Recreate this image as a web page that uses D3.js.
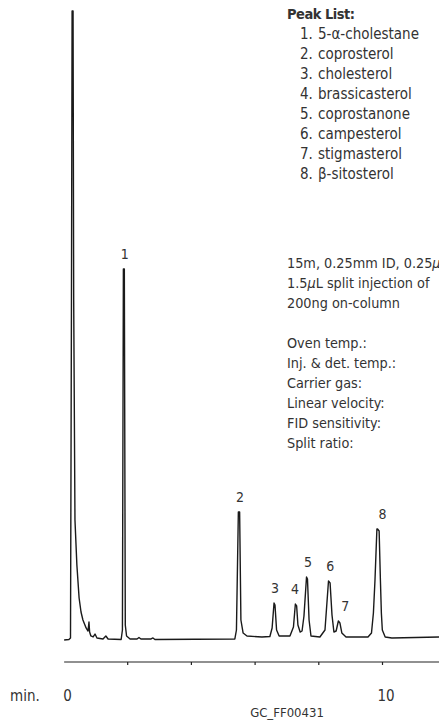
<!DOCTYPE html>
<html>
<head>
<meta charset="utf-8">
<script src="https://cdn.jsdelivr.net/npm/d3@7/dist/d3.min.js"></script>
<style>
  html, body { margin: 0; padding: 0; background: #fff; }
  svg { display: block; }
  text { font-family: "Liberation Sans Narrow", "DejaVu Sans Condensed", "Roboto", sans-serif; fill: #333; }
</style>
</head>
<body>
<svg id="chart" width="439" height="721"></svg>
<script>
// Detector trace: retention time (min) and signal (% of full scale)
const traceTime = [0.02, 0.17, 0.22, 0.25, 0.27, 0.30, 0.32, 0.36, 0.42, 0.49, 0.55, 0.61, 0.71, 0.77, 0.80, 0.82, 0.86, 0.93, 0.99, 1.05, 1.24, 1.33, 1.40,
  1.81, 1.85, 1.88, 1.91, 1.94, 1.98, 2.09, 2.31, 2.37, 2.43, 2.75, 2.81, 2.87,
  5.38, 5.43, 5.49, 5.53, 5.57, 5.64, 5.76, 6.23,
  6.48, 6.55, 6.61, 6.64, 6.69, 6.77,
  7.11, 7.22, 7.28, 7.32, 7.36, 7.43, 7.49, 7.55, 7.63, 7.66, 7.71, 7.77,
  8.05, 8.21, 8.32, 8.37, 8.43, 8.49, 8.56, 8.63, 8.68, 8.74, 8.87,
  9.56, 9.67, 9.73, 9.78, 9.84, 9.86, 9.91, 9.95, 9.98, 10.01, 10.10, 10.31, 11.79];
const traceSignal = [0.00, 0.08, 0.32, 54.05, 100.0, 100.0, 54.05, 19.08, 11.92, 6.68, 4.45, 3.18, 1.91, 1.43, 2.86, 1.27, 0.64, 0.48, 0.95, 0.32, 0.16, 0.64, 0.16,
  0.08, 1.59, 58.98, 58.98, 2.38, 0.64, 0.16, 0.16, 0.40, 0.16, 0.16, 0.32, 0.08,
  0.16, 1.59, 20.35, 20.35, 3.18, 1.11, 0.64, 0.48,
  0.56, 1.91, 5.88, 5.56, 1.59, 0.64,
  0.64, 2.07, 5.72, 5.41, 2.38, 1.27, 1.43, 3.82, 10.02, 9.70, 3.18, 0.64,
  0.48, 1.59, 9.38, 9.06, 3.97, 1.27, 1.43, 3.02, 2.70, 1.11, 0.48,
  0.48, 1.11, 4.29, 9.54, 17.65, 17.65, 17.33, 9.54, 4.29, 1.59, 0.48, 0.32, 0.48];

// Identified peaks
const peakNumbers = ["1", "2", "3", "4", "5", "6", "7", "8"];
const peakTimes   = [1.895, 5.51, 6.61, 7.30, 7.645, 8.345, 8.655, 9.86];
const peakHeights = [58.98, 20.35, 5.88, 5.72, 10.02, 9.38, 3.02, 17.65];

const peakNames = ["5-\u03B1-cholestane", "coprosterol", "cholesterol", "brassicasterol",
  "coprostanone", "campesterol", "stigmasterol", "\u03B2-sitosterol"];

const axisTicks = [2, 4, 6, 8, 10];
const axisLabels = [0, 10];

const conditionLines = [
  ["15m, 0.25mm ID, 0.25", "\u03BC"],
  ["1.5", "\u03BC", "L split injection of"],
  ["200ng on-column"],
  [""],
  ["Oven temp.:"],
  ["Inj. & det. temp.:"],
  ["Carrier gas:"],
  ["Linear velocity:"],
  ["FID sensitivity:"],
  ["Split ratio:"]
];

const svg = d3.select("#chart");

const x = d3.scaleLinear().domain([0, 10]).range([63.5, 382]);
const y = d3.scaleLinear().domain([0, 100]).range([640, 11]);

// chromatogram trace
const pts = traceTime.map((t, i) => [t, traceSignal[i]]);
svg.append("path")
  .datum(pts)
  .attr("fill", "none")
  .attr("stroke", "#1a1a1a")
  .attr("stroke-width", 1.4)
  .attr("stroke-linejoin", "round")
  .attr("d", d3.line().x(d => x(d[0])).y(d => y(d[1])));

// time axis
const axisG = svg.append("g").attr("transform", "translate(0,662)");
axisG.call(d3.axisBottom(x).tickValues(axisTicks).tickSize(3).tickFormat(""));
axisG.select(".domain").attr("d", `M${x(0.02)},0H439`).attr("stroke", "#222").attr("stroke-width", 1.2);
axisG.selectAll(".tick line").attr("stroke", "#222").attr("stroke-width", 1.2);

svg.selectAll("text.axlab")
  .data(axisLabels)
  .join("text")
  .attr("class", "axlab")
  .attr("x", d => x(d) + 4)
  .attr("y", 701)
  .attr("text-anchor", "middle")
  .attr("font-size", 15)
  .text(d => d);

svg.append("text").attr("x", 10).attr("y", 701).attr("font-size", 15).text("min.");
svg.append("text").attr("x", 287).attr("y", 717).attr("font-size", 13).attr("text-anchor", "middle").text("GC_FF00431");

// peak numbers, with small nudges so they clear neighbouring peaks
const labelNudge = { "4": -2, "7": 5, "8": 4 };
svg.selectAll("text.peaklab")
  .data(peakNumbers)
  .join("text")
  .attr("class", "peaklab")
  .attr("x", (d, i) => x(peakTimes[i]) + 1 + (labelNudge[d] || 0))
  .attr("y", (d, i) => y(peakHeights[i]) - 10)
  .attr("text-anchor", "middle")
  .attr("font-size", 14)
  .text(d => d);

// peak list
svg.append("text").attr("x", 287).attr("y", 19).attr("font-size", 14.5)
  .attr("font-weight", "bold").attr("letter-spacing", -0.5).text("Peak List:");
const list = svg.append("g");
peakNames.forEach((name, i) => {
  list.append("text").attr("x", 300).attr("y", 39 + i * 20).attr("font-size", 15).text(peakNumbers[i] + ".");
  list.append("text").attr("x", 318).attr("y", 39 + i * 20).attr("font-size", 15).text(name);
});

// column and run conditions
conditionLines.forEach((parts, i) => {
  const t = svg.append("text").attr("x", 287).attr("y", 268 + i * 20).attr("font-size", 14.3);
  parts.forEach(p => {
    t.append("tspan").attr("font-style", p === "\u03BC" ? "italic" : null).text(p);
  });
});
</script>
</body>
</html>
